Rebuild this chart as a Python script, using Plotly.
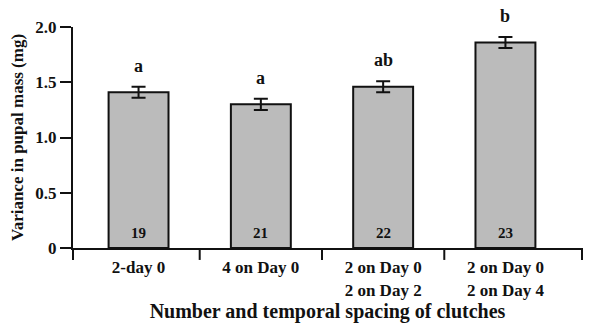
import plotly.graph_objects as go

categories = ["2-day 0", "4 on Day 0", "2 on Day 0<br>2 on Day 2", "2 on Day 0<br>2 on Day 4"]
variance = [1.41, 1.30, 1.46, 1.86]
se = [0.05, 0.05, 0.05, 0.05]
letters = ["a", "a", "ab", "b"]
n_labels = ["19", "21", "22", "23"]
y_ticks = [0, 0.5, 1.0, 1.5, 2.0]
y_tick_text = ["0", "0.5", "1.0", "1.5", "2.0"]

FONT = "Liberation Serif"
INK = "#111111"

fig = go.Figure()
fig.add_trace(go.Bar(
    x=categories, y=variance,
    width=0.49,
    marker=dict(color="#bbbbbb", line=dict(color=INK, width=2)),
    error_y=dict(type="data", array=se, visible=True, color=INK, thickness=2, width=7),
    showlegend=False,
))

for c, v, e, l in zip(categories, variance, se, letters):
    fig.add_annotation(x=c, y=v + e, text=l, showarrow=False, yshift=21,
                       font=dict(family=FONT, size=18, color=INK, weight="bold"))
for c, n in zip(categories, n_labels):
    fig.add_annotation(x=c, y=0, text=n, showarrow=False, yshift=15,
                       font=dict(family=FONT, size=15, color=INK, weight="bold"))

# category separator ticks below the x axis
for xv in [0, 1]:
    fig.add_shape(type="line", xref="x domain", yref="paper", x0=xv, x1=xv, y0=0, y1=-0.054,
                  line=dict(color=INK, width=2))
for xv in [0.5, 1.5, 2.5]:
    fig.add_shape(type="line", xref="x", yref="paper", x0=xv, x1=xv, y0=0, y1=-0.054,
                  line=dict(color=INK, width=2))

fig.update_layout(
    width=597, height=327,
    margin=dict(l=73, r=15, t=27, b=79),
    plot_bgcolor="white", paper_bgcolor="white",
    font=dict(family=FONT, color=INK, weight="bold"),
    xaxis=dict(
        type="category", range=[-0.536, 3.626], automargin=False,
        showline=True, linecolor=INK, linewidth=2,
        ticks="", ticklabelstandoff=3,
        tickfont=dict(family=FONT, size=17, color=INK, weight="bold"),
        title=dict(text="Number and temporal spacing of clutches", standoff=1,
                   font=dict(family=FONT, size=20, color=INK, weight="bold")),
        showgrid=False, zeroline=False,
    ),
    yaxis=dict(
        range=[0, 2.0], tickvals=y_ticks, ticktext=y_tick_text, automargin=False,
        showline=True, linecolor=INK, linewidth=2,
        ticks="outside", ticklen=11, tickwidth=2, tickcolor=INK,
        tickfont=dict(family=FONT, size=17, color=INK, weight="bold"),
        title=dict(text="Variance in pupal mass (mg)", standoff=7,
                   font=dict(family=FONT, size=17, color=INK, weight="bold")),
        showgrid=False, zeroline=False,
    ),
)

fig.write_html("out.html", config={"displayModeBar": False},
               post_script="document.body.style.margin='0';")
